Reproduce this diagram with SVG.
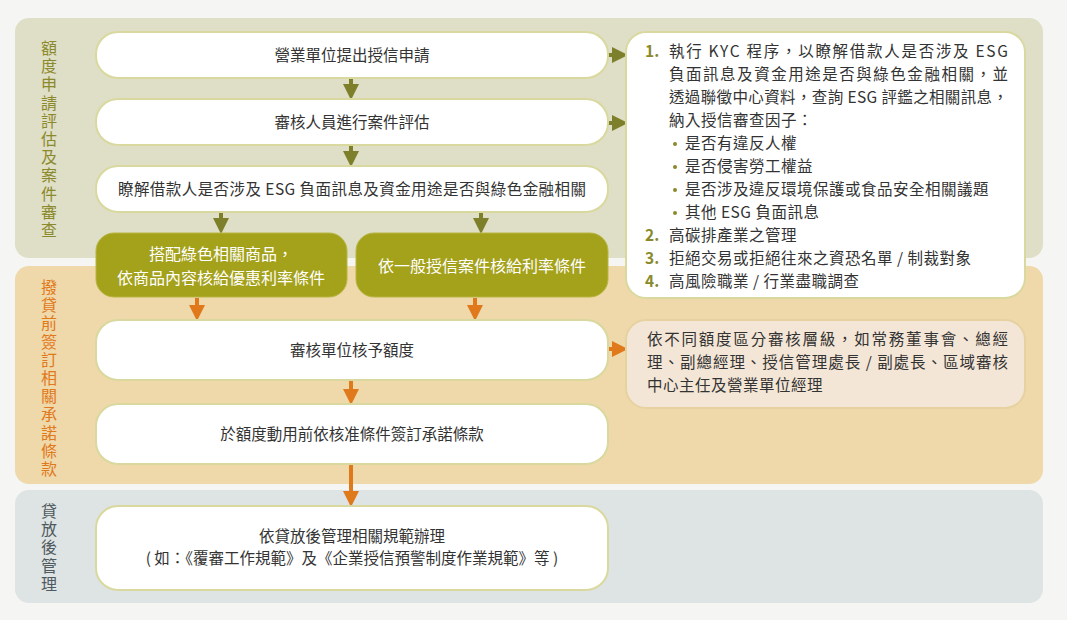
<svg xmlns="http://www.w3.org/2000/svg" width="1067" height="620" viewBox="0 0 1067 620">
<style>
text{font-family:"Noto Sans CJK TC","Noto Sans",sans-serif;font-size:15.5px;fill:#333}
.w{fill:#fff;stroke:#d9d99f;stroke-width:2}
.g{fill:#a4a11a;stroke:#b8b645;stroke-width:1}
.gt{fill:#fff;font-size:16px}
.c{text-anchor:middle}
.lab{font-size:16px;writing-mode:vertical-rl;letter-spacing:2.2px}
.num{fill:#8a8a2c;font-weight:bold}
.bul{fill:#8a8a2c}
.ol{stroke:#7e7f2a;stroke-width:4;fill:none}
.or{stroke:#e0781c;stroke-width:4;fill:none}
</style>
<defs>
<marker id="ao" markerWidth="4" markerHeight="4" refX="2" refY="2" orient="auto" markerUnits="strokeWidth"><path d="M0,0 L4,2 L0,4Z" fill="#7e7f2a"/></marker>
<marker id="ar" markerWidth="4" markerHeight="4" refX="2" refY="2" orient="auto" markerUnits="strokeWidth"><path d="M0,0 L4,2 L0,4Z" fill="#e0781c"/></marker>
</defs>
<rect width="1067" height="620" fill="#f5f6f4"/>
<rect x="15" y="18" width="1028" height="240" rx="14" fill="#dfdec6"/>
<rect x="15" y="266" width="1028" height="218" rx="14" fill="#efd8a9"/>
<rect x="15" y="490" width="1028" height="113" rx="14" fill="#dee3e3"/>
<g id="lab1"><text class="lab" x="49" y="40" style="fill:#8a8a2c">額度申請評估及案件審查</text></g>
<g id="lab2"><text class="lab" x="49" y="279" style="fill:#e0781c">撥貸前簽訂相關承諾條款</text></g>
<g id="lab3"><text class="lab" x="49" y="503" style="fill:#4e5a5e">貸放後管理</text></g>
<g id="connectors">
<line class="ol" x1="351" y1="79" x2="351" y2="92" marker-end="url(#ao)"/>
<line class="ol" x1="351" y1="146" x2="351" y2="159" marker-end="url(#ao)"/>
<line class="ol" x1="221" y1="213" x2="221" y2="226" marker-end="url(#ao)"/>
<line class="ol" x1="481" y1="213" x2="481" y2="226" marker-end="url(#ao)"/>
<line class="ol" x1="608" y1="55" x2="620" y2="55" marker-end="url(#ao)"/>
<line class="ol" x1="608" y1="123" x2="620" y2="123" marker-end="url(#ao)"/>
<line class="or" x1="197" y1="298" x2="197" y2="313" marker-end="url(#ar)"/>
<line class="or" x1="475" y1="298" x2="475" y2="313" marker-end="url(#ar)"/>
<line class="or" x1="351" y1="381" x2="351" y2="397" marker-end="url(#ar)"/>
<line class="or" x1="351" y1="465" x2="351" y2="499" marker-end="url(#ar)"/>
<line class="or" x1="596" y1="349" x2="620" y2="349" marker-end="url(#ar)"/>
</g>
<g id="n1"><rect class="w" x="96" y="32" width="512" height="46" rx="22"/><text class="c" x="352" y="61">營業單位提出授信申請</text></g>
<g id="n2"><rect class="w" x="96" y="99" width="512" height="46" rx="22"/><text class="c" x="352" y="128">審核人員進行案件評估</text></g>
<g id="n3"><rect class="w" x="96" y="166" width="512" height="46" rx="22"/><text class="c" x="352" y="195" textLength="468" lengthAdjust="spacing">瞭解借款人是否涉及 ESG 負面訊息及資金用途是否與綠色金融相關</text></g>
<g id="n4"><rect class="g" x="96" y="233" width="251" height="64" rx="18"/><text class="c gt" x="221" y="260">搭配綠色相關商品，</text><text class="c gt" x="221" y="284">依商品內容核給優惠利率條件</text></g>
<g id="n5"><rect class="g" x="356" y="233" width="252" height="64" rx="18"/><text class="c gt" x="482" y="272">依一般授信案件核給利率條件</text></g>
<g id="n6"><rect class="w" x="96" y="320" width="512" height="60" rx="22"/><text class="c" x="352" y="356">審核單位核予額度</text></g>
<g id="n7"><rect class="w" x="96" y="404" width="512" height="60" rx="22"/><text class="c" x="352" y="440">於額度動用前依核准條件簽訂承諾條款</text></g>
<g id="n8"><rect class="w" x="96" y="506" width="512" height="84" rx="22"/><text class="c" x="352" y="542">依貸放後管理相關規範辦理</text><text class="c" x="352" y="564">( 如：《覆審工作規範》及《企業授信預警制度作業規範》等 )</text></g>
<g id="r1"><rect class="w" x="626" y="32" width="399" height="266" rx="20"/>
<text class="num" x="645" y="57">1.</text>
<text x="669" y="57" textLength="339" lengthAdjust="spacing">執行 KYC 程序，以瞭解借款人是否涉及 ESG</text>
<text x="669" y="80" textLength="339" lengthAdjust="spacing">負面訊息及資金用途是否與綠色金融相關，並</text>
<text x="669" y="103" textLength="339" lengthAdjust="spacing">透過聯徵中心資料，查詢 ESG 評鑑之相關訊息，</text>
<text x="669" y="126" letter-spacing="0.5">納入授信審查因子：</text>
<circle class="bul" cx="675" cy="144" r="2"/><text x="685" y="149" letter-spacing="0.5">是否有違反人權</text>
<circle class="bul" cx="675" cy="167" r="2"/><text x="685" y="172" letter-spacing="0.5">是否侵害勞工權益</text>
<circle class="bul" cx="675" cy="190" r="2"/><text x="685" y="195" letter-spacing="0.5">是否涉及違反環境保護或食品安全相關議題</text>
<circle class="bul" cx="675" cy="213" r="2"/><text x="685" y="218" letter-spacing="0.5">其他 ESG 負面訊息</text>
<text class="num" x="645" y="241">2.</text><text x="669" y="241" letter-spacing="0.5">高碳排產業之管理</text>
<text class="num" x="645" y="264">3.</text><text x="669" y="264" letter-spacing="0.5">拒絕交易或拒絕往來之資恐名單 / 制裁對象</text>
<text class="num" x="645" y="287">4.</text><text x="669" y="287" letter-spacing="0.5">高風險職業 / 行業盡職調查</text>
</g>
<g id="r2"><rect x="626" y="320" width="399" height="88" rx="20" fill="#f4e6d6" stroke="#e6d2a0" stroke-width="2"/>
<text x="647" y="345" textLength="361" lengthAdjust="spacing">依不同額度區分審核層級，如常務董事會、總經</text>
<text x="647" y="368" textLength="361" lengthAdjust="spacing">理、副總經理、授信管理處長 / 副處長、區域審核</text>
<text x="647" y="391" letter-spacing="0.5">中心主任及營業單位經理</text>
</g>
</svg>
